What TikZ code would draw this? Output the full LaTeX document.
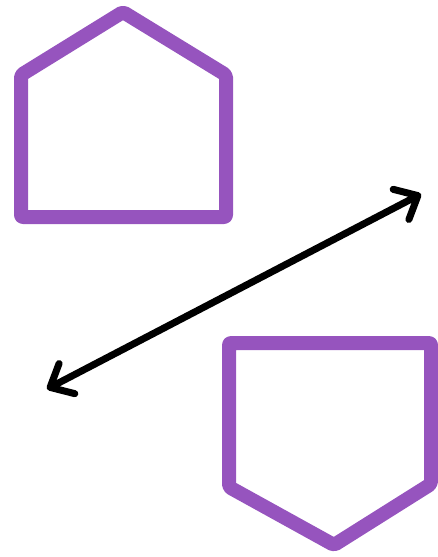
\documentclass[tikz,border=0pt]{standalone}
\usepackage{tikz}
\usetikzlibrary{arrows.meta}
\definecolor{housepurple}{RGB}{150,84,190}
\tikzset{
  pentagon/.style={draw=housepurple, line width=14pt, line join=round, rounded corners=2pt},
  swaparrow/.style={line width=7pt, line cap=round,
    {Straight Barb[length=19pt,width=34pt,line cap=round,line join=round]}-{Straight Barb[length=19pt,width=34pt,line cap=round,line join=round]}}
}
\begin{document}
\begin{tikzpicture}[x=1pt, y=-1pt]
  \useasboundingbox (0,0) rectangle (437,557);

  % --- upright pentagon (top left) ---
  \draw [pentagon] (123,12) -- (226,75) -- (226,217) -- (21,217) -- (21,75) -- cycle;

  % --- upside-down pentagon (bottom right) ---
  \draw [pentagon] (229,343) -- (431,343) -- (431,484) -- (334,545) -- (229,487) -- cycle;

  % --- double arrow between them ---
  \coordinate (lowend) at (47,389);
  \coordinate (highend) at (421,194);
  \draw [swaparrow] (lowend) -- (highend);
\end{tikzpicture}
\end{document}
